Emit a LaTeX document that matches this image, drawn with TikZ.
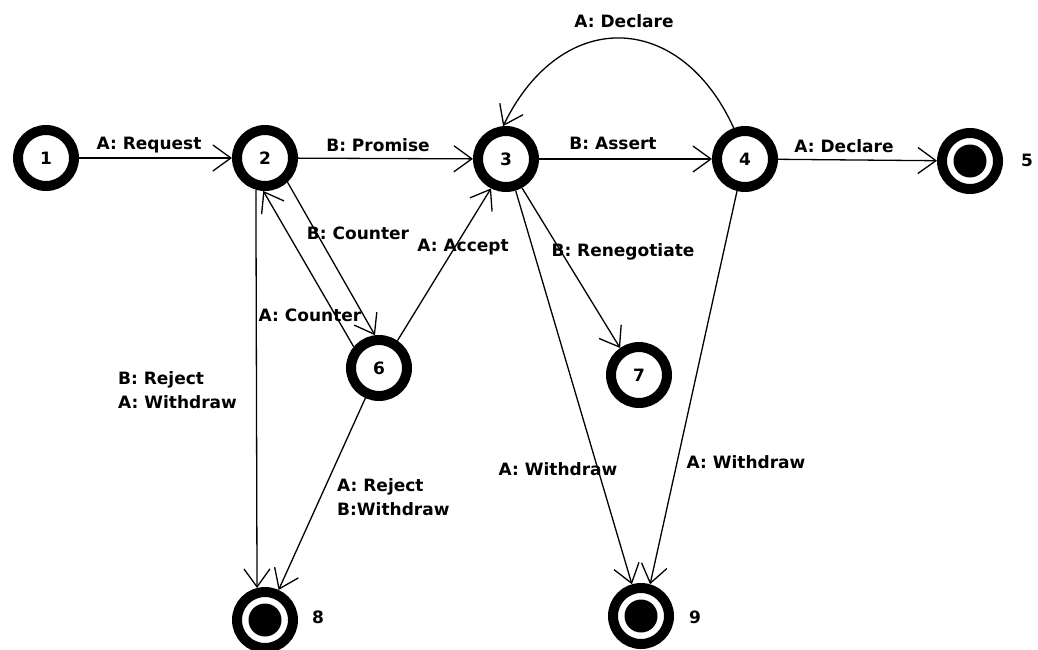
\documentclass[tikz,border=0pt]{standalone}
\usepackage{fontspec}
\setmainfont{DejaVu Sans}
\usetikzlibrary{arrows.meta}
\begin{document}
\begin{tikzpicture}[x=1pt,y=-1pt,
  txt/.style={font=\fontsize{17}{24}\selectfont\bfseries},
  state/.style={circle,draw,line width=10pt,minimum size=56pt,inner sep=0pt,txt},
  final/.style={state,path picture={\fill (path picture bounding box.center) circle (16.5pt);}},
  lbl/.style={txt,inner sep=0pt},
  edge/.style={line width=1.3pt,-{Straight Barb[length=18pt,width=26pt,line width=1.3pt]}}]
\useasboundingbox (0,0) rectangle (1038,649);
% states
\node[state] (n1) at (46,158) {1};
\node[state] (n2) at (265,158) {2};
\node[state] (n3) at (506,159) {3};
\node[state] (n4) at (745,159) {4};
\node[final] (n5) at (970,161) {};
\node[state] (n6) at (379,368) {6};
\node[state] (n7) at (639,375) {7};
\node[final] (n8) at (265,620) {};
\node[final] (n9) at (641,616) {};
\node[lbl] (t5) at (1027,160) {5};
\node[lbl] (t8) at (318,617) {8};
\node[lbl] (t9) at (695,617) {9};
% transitions
\draw[edge] (n1) -- (n2);
\draw[edge] (n2) -- (n3);
\draw[edge] (n3) -- (n4);
\draw[edge] (n4) -- (n5);
\draw[edge] (n4.110) .. controls (680,10) and (561,7) .. (n3.95);
\draw[edge] (n2.-106) -- (n8.104);
\draw[edge] (n6) -- (n8);
\draw[edge] (n6.140) -- (n2.-93);
\draw[edge] (n2.-47) -- (n6.97);
\draw[edge] (n6.56) -- (n3.-117);
\draw[edge] (n3.-61) -- (n7.125);
\draw[edge] (n3.-73) -- (n9.106);
\draw[edge] (n4.-104) -- (n9.74);
% labels
\node[lbl] (lreq) at (149,145) {A: Request};
\node[lbl] (lpro) at (378,145) {B: Promise};
\node[lbl] (lass) at (613,143) {B: Assert};
\node[lbl] (ldec) at (844,146) {A: Declare};
\node[lbl] (ldec2) at (624,21) {A: Declare};
\node[lbl] (lbco) at (358,233) {B: Counter};
\node[lbl] (lacc) at (463,247) {A: Accept};
\node[lbl] (lren) at (623,252) {B: Renegotiate};
\node[lbl] (laco) at (310,315) {A: Counter};
\node[lbl,anchor=west,align=left] (lrej) at (118,390) {B: Reject\\A: Withdraw};
\node[lbl,anchor=west,align=left] (larj) at (337,497) {A: Reject\\B:Withdraw};
\node[lbl] (lw1) at (558,469) {A: Withdraw};
\node[lbl] (lw2) at (746,462) {A: Withdraw};
\end{tikzpicture}
\end{document}
